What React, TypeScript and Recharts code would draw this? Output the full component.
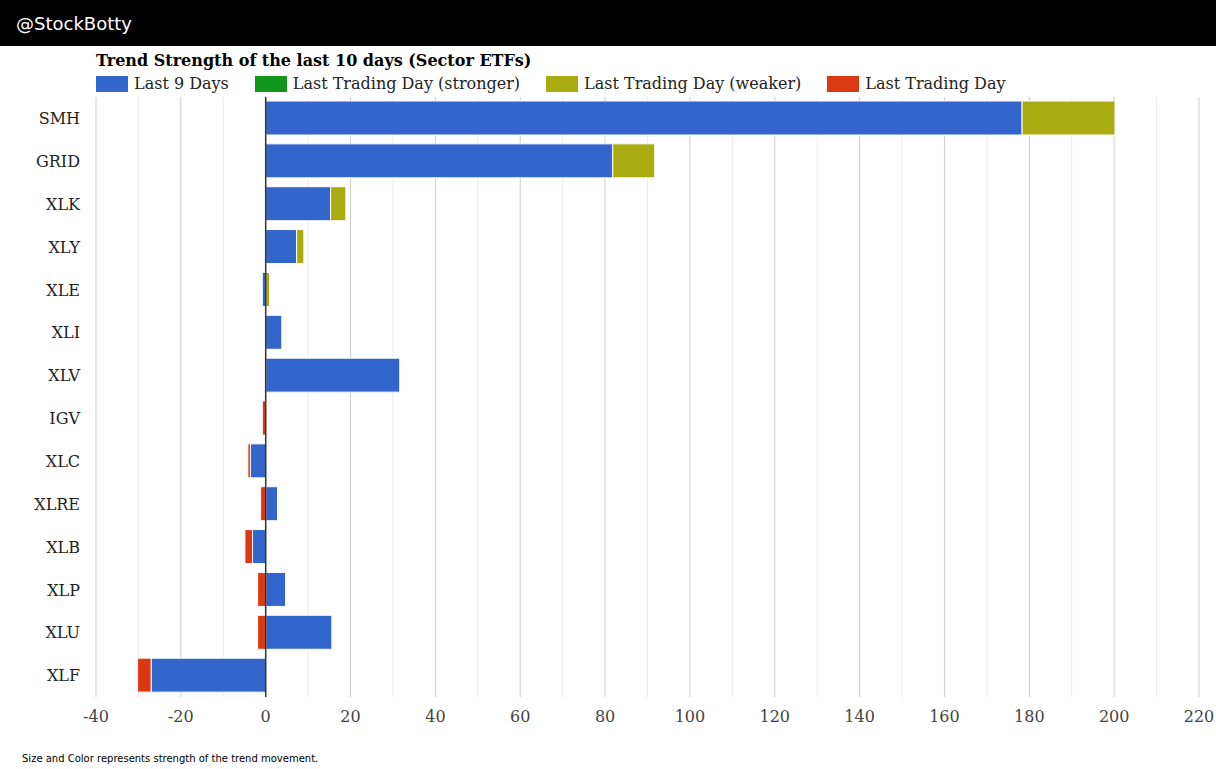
import React from 'react';
import { BarChart, Bar, XAxis, YAxis, CartesianGrid, ReferenceLine } from 'recharts';

// Sector ETFs, top to bottom
const categories = ['SMH', 'GRID', 'XLK', 'XLY', 'XLE', 'XLI', 'XLV', 'IGV', 'XLC', 'XLRE', 'XLB', 'XLP', 'XLU', 'XLF'];

// Series values
const last9Days = [178.3, 81.8, 15.3, 7.3, -0.8, 3.8, 31.6, 0, -3.6, 2.8, -3.1, 4.7, 15.6, -27.0];
const lastDayStronger = [0, 0, 0, 0, 0, 0, 0, 0, 0, 0, 0, 0, 0, 0];
const lastDayWeaker = [21.9, 9.9, 3.6, 1.7, 0.9, 0, 0, 0, 0, 0, 0, 0, 0, 0];
const lastDay = [0, 0, 0, 0, 0, 0, -0.3, -0.8, -0.6, -1.2, -1.8, -1.9, -1.9, -3.2];

// grid every 10, labels every 20
const xTicks = [-40, -30, -20, -10, 0, 10, 20, 30, 40, 50, 60, 70, 80, 90, 100, 110, 120, 130, 140, 150, 160, 170, 180, 190, 200, 210, 220];

const series = [
    { key: 'last9', name: 'Last 9 Days', color: '#3366cc' },
    { key: 'stronger', name: 'Last Trading Day (stronger)', color: '#109618' },
    { key: 'weaker', name: 'Last Trading Day (weaker)', color: '#aaaa11' },
    { key: 'lastDay', name: 'Last Trading Day', color: '#dc3912' },
];

const data = categories.map((name, i) => ({
    name,
    last9: last9Days[i],
    stronger: lastDayStronger[i],
    weaker: lastDayWeaker[i],
    lastDay: lastDay[i],
}));

const serif = '"DejaVu Serif", serif';
const sans = '"DejaVu Sans", sans-serif';

const GridLine = (props: any) => {
    const { x1, y1, x2, y2, index } = props;
    const major = index % 2 === 0;
    return <line x1={x1} y1={y1} x2={x2} y2={y2} stroke={major ? '#cccccc' : '#ebebeb'} strokeWidth={1} />;
};

export default function App() {
    return (
        <div style={{ position: 'fixed', top: 0, left: 0, width: 1216, height: 769, background: '#fff', overflow: 'hidden' }}>
            <div style={{ position: 'absolute', top: 0, left: 0, width: 1216, height: 46, background: '#000', color: '#fff', fontFamily: sans, fontSize: 18, lineHeight: '47px', paddingLeft: 16, boxSizing: 'border-box' }}>
                @StockBotty
            </div>

            <div style={{ position: 'absolute', top: 51, left: 96, fontFamily: serif, fontSize: 16, fontWeight: 'bold', color: '#000' }}>
                Trend Strength of the last 10 days (Sector ETFs)
            </div>

            <div style={{ position: 'absolute', top: 74, left: 96, display: 'flex', fontFamily: serif, fontSize: 16, color: '#222' }}>
                {series.map(s => (
                    <div key={s.key} style={{ display: 'flex', alignItems: 'center', marginRight: 26 }}>
                        <div style={{ width: 32, height: 16, background: s.color, marginRight: 6 }} />
                        <span>{s.name}</span>
                    </div>
                ))}
            </div>

            <div style={{ position: 'absolute', top: 0, left: 0 }}>
                <BarChart
                    width={1216}
                    height={769}
                    data={data}
                    layout="vertical"
                    stackOffset="sign"
                    margin={{ top: 97, right: 17, left: 0, bottom: 32 }}
                    barSize={34}
                >
                    <CartesianGrid horizontal={false} vertical={GridLine} />
                    <XAxis
                        type="number"
                        domain={[-40, 220]}
                        ticks={xTicks}
                        interval={0}
                        tickFormatter={(v: number) => (v % 20 === 0 ? String(v) : '')}
                        axisLine={false}
                        tickLine={false}
                        tickMargin={8}
                        height={40}
                        tick={{ fontFamily: serif, fontSize: 16, fill: '#444' }}
                    />
                    <YAxis
                        dataKey="name"
                        type="category"
                        width={96}
                        axisLine={false}
                        tickLine={false}
                        tickMargin={10}
                        tick={{ fontFamily: serif, fontSize: 16, fill: '#222' }}
                    />
                    {series.map(s => (
                        <Bar
                            key={s.key}
                            dataKey={s.key}
                            name={s.name}
                            stackId="a"
                            fill={s.color}
                            stroke="#fff"
                            strokeWidth={1}
                            isAnimationActive={false}
                        />
                    ))}
                    <ReferenceLine x={0} stroke="#333" strokeWidth={1.5} />
                </BarChart>
            </div>

            <div style={{ position: 'absolute', top: 753, left: 22, fontFamily: sans, fontSize: 10, color: '#000' }}>
                Size and Color represents strength of the trend movement.
            </div>
        </div>
    );
}
